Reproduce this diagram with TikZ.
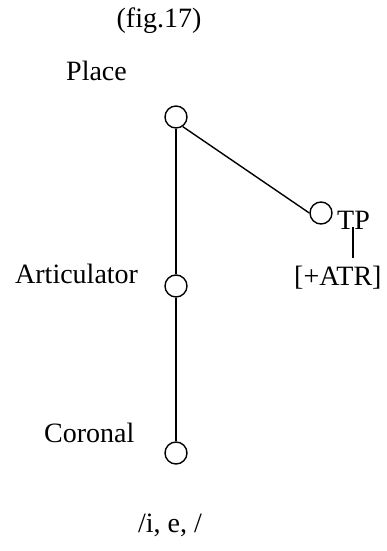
\documentclass[tikz,border=0pt]{standalone}
\usepackage{fontspec}
\setmainfont{Liberation Serif}
\begin{document}
\begin{tikzpicture}[x=1pt,y=-1pt,
  font=\fontsize{28}{33}\selectfont,
  featnode/.style={draw,circle,line width=1.4pt,inner sep=0pt,minimum size=22pt},
  label text/.style={inner sep=0pt,anchor=base west},
  branch/.style={line width=1.4pt}]
\useasboundingbox (0,0) rectangle (386,551);
% caption
\node[inner sep=0pt,anchor=base] (cap) at (159,28) {(fig.17)};
% tier labels
\node[label text] (lplace) at (66,80) {Place};
\node[label text] (lart) at (15,283) {Articulator};
\node[label text] (lcor) at (44,442) {Coronal};
% feature nodes
\node[featnode] (place) at (176,117) {};
\node[featnode] (art) at (176,286) {};
\node[featnode] (cor) at (176,453) {};
\node[featnode] (tp) at (321,213) {};
% tongue-root node and its feature
\node[label text] (tptext) at (337,229) {TP};
\node[label text] (atr) at (294,285) {[+ATR]};
\coordinate (tptop) at (353,227);
\coordinate (tpbot) at (353,258);
% branches
\draw[branch] (place.south) -- (art.north);
\draw[branch] (art.south) -- (cor.north);
\draw[branch] (place.-55) -- (tp.west);
\draw[branch] (tptop) -- (tpbot);
% segments
\node[inner sep=0pt,anchor=base] (seg) at (170,532) {/i, e, /};
\end{tikzpicture}
\end{document}
